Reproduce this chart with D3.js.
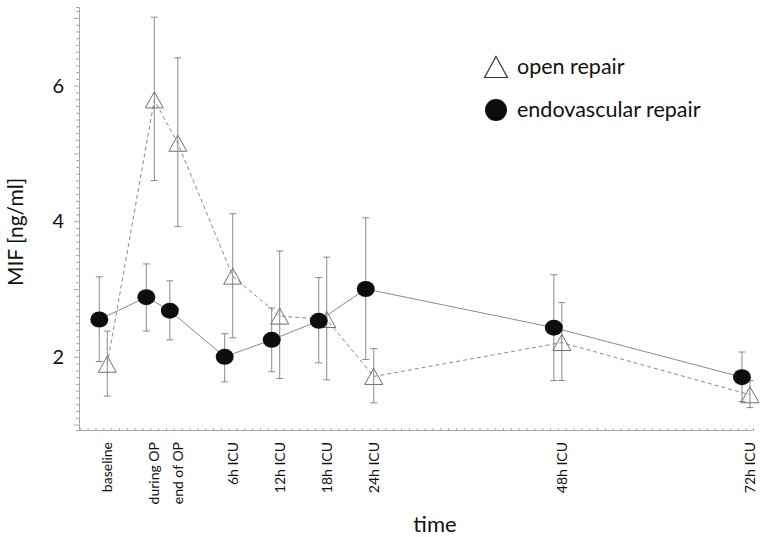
<!DOCTYPE html>
<html>
<head>
<meta charset="utf-8">
<title>MIF time course</title>
<script src="https://cdnjs.cloudflare.com/ajax/libs/d3/7.8.5/d3.min.js"></script>
<style>
body { margin: 0; background: #fff; font-family: Lato, "Open Sans", sans-serif; }
.line { fill: none; stroke: #8a8a8a; stroke-width: 1; }
.err { stroke: #8a8a8a; stroke-width: 1; }
</style>
</head>
<body>
<script>
// time points (position on the hour scale, ICU hours; pre-ICU points placed before 0)
var labels = ["baseline", "during OP", "end of  OP", "6h ICU", "12h ICU", "18h ICU", "24h ICU", "48h ICU", "72h ICU"];
var positions = [-10, -4, -1, 6, 12, 18, 24, 48, 72];

// open repair (triangles): mean, lower, upper
var openMean = [1.89, 5.79, 5.15, 3.19, 2.60, 2.55, 1.71, 2.21, 1.44];
var openLow  = [1.42, 4.60, 3.92, 2.28, 1.68, 1.66, 1.32, 1.65, 1.25];
var openHigh = [2.38, 7.01, 6.41, 4.11, 3.56, 3.47, 2.12, 2.80, 1.65];

// endovascular repair (circles)
var endoMean = [2.55, 2.88, 2.68, 2.00, 2.25, 2.53, 3.00, 2.43, 1.70];
var endoLow  = [1.93, 2.38, 2.25, 1.63, 1.78, 1.91, 1.96, 1.65, 1.34];
var endoHigh = [3.18, 3.37, 3.12, 2.34, 2.72, 3.17, 4.05, 3.21, 2.07];

var yTicks = [2, 4, 6];

var W = 764, H = 537;
var margin = {left: 79, right: 11, top: 7, bottom: 107};

var x = d3.scaleLinear().domain([-13.1, 72.9]).range([margin.left, W - margin.right]);
var y = d3.scaleLinear().domain([0.92, 7.16]).range([H - margin.bottom, margin.top]);

var svg = d3.select("body").append("svg")
    .attr("width", W)
    .attr("height", H);

// axes
var axisColor = "#a8a8a8";
var yMinor = d3.range(10, 72).map(function(d) { return d / 10; });
var xMinor = d3.range(-13, 73);

var yAxis = svg.append("g")
    .attr("transform", "translate(" + margin.left + ",0)")
    .call(d3.axisLeft(y).tickValues(yMinor).tickSize(3).tickFormat(""));
yAxis.select(".domain").attr("stroke", axisColor);
yAxis.selectAll(".tick line")
    .attr("stroke", axisColor)
    .attr("x2", function(d) { return Math.abs(d - Math.round(d)) < 1e-6 ? -5 : -3; });

svg.append("g")
    .selectAll("text")
    .data(yTicks)
    .enter().append("text")
    .attr("x", margin.left - 15)
    .attr("y", function(d) { return y(d); })
    .attr("dy", "0.35em")
    .attr("text-anchor", "end")
    .attr("font-size", 20)
    .attr("fill", "#111")
    .text(function(d) { return d; });

var xAxis = svg.append("g")
    .attr("transform", "translate(0," + (H - margin.bottom) + ")")
    .call(d3.axisTop(x).tickValues(xMinor).tickSize(2).tickFormat(""));
xAxis.select(".domain").attr("stroke", axisColor);
xAxis.selectAll(".tick line").attr("stroke", axisColor);

// category labels, rotated
svg.append("g")
    .selectAll("text")
    .data(labels)
    .enter().append("text")
    .attr("transform", function(d, i) {
        return "translate(" + (x(positions[i]) + 4) + "," + (H - margin.bottom + 12) + ") rotate(-90)";
    })
    .attr("dy", "0.35em")
    .attr("text-anchor", "end")
    .attr("font-size", 14)
    .attr("fill", "#111")
    .text(function(d) { return d; });

// axis titles
svg.append("text")
    .attr("x", 435)
    .attr("y", 532)
    .attr("text-anchor", "middle")
    .attr("font-size", 22)
    .attr("fill", "#111")
    .text("time");

svg.append("text")
    .attr("transform", "translate(23,232) rotate(-90)")
    .attr("text-anchor", "middle")
    .attr("font-size", 21)
    .attr("fill", "#111")
    .text("MIF [ng/ml]");

// series
var dodge = 4;
var line = d3.line()
    .x(function(d) { return d.x; })
    .y(function(d) { return y(d.v); });

var openPts = positions.map(function(p, i) {
    return {x: x(p) + dodge, v: openMean[i], lo: openLow[i], hi: openHigh[i]};
});
var endoPts = positions.map(function(p, i) {
    return {x: x(p) - dodge, v: endoMean[i], lo: endoLow[i], hi: endoHigh[i]};
});

svg.append("path")
    .attr("class", "line")
    .attr("stroke-dasharray", "4,3")
    .attr("d", line(openPts));

svg.append("path")
    .attr("class", "line")
    .attr("d", line(endoPts));

function errorBars(pts) {
    var g = svg.append("g");
    g.selectAll(".v").data(pts).enter().append("line")
        .attr("class", "err")
        .attr("x1", function(d) { return d.x; })
        .attr("x2", function(d) { return d.x; })
        .attr("y1", function(d) { return y(d.lo); })
        .attr("y2", function(d) { return y(d.hi); });
    ["lo", "hi"].forEach(function(k) {
        g.selectAll(".c" + k).data(pts).enter().append("line")
            .attr("class", "err")
            .attr("x1", function(d) { return d.x - 3.5; })
            .attr("x2", function(d) { return d.x + 3.5; })
            .attr("y1", function(d) { return y(d[k]); })
            .attr("y2", function(d) { return y(d[k]); });
    });
}
errorBars(openPts);
errorBars(endoPts);

function triPath(cx, cy, w, h) {
    return "M" + cx + "," + (cy - h / 2) +
        "L" + (cx + w / 2) + "," + (cy + h / 2) +
        "L" + (cx - w / 2) + "," + (cy + h / 2) + "Z";
}

svg.append("g").selectAll("path").data(openPts).enter().append("path")
    .attr("d", function(d) { return triPath(d.x, y(d.v), 18, 16); })
    .attr("fill", "none")
    .attr("stroke", "#707070")
    .attr("stroke-width", 1);

svg.append("g").selectAll("ellipse").data(endoPts).enter().append("ellipse")
    .attr("cx", function(d) { return d.x; })
    .attr("cy", function(d) { return y(d.v); })
    .attr("rx", 9)
    .attr("ry", 8)
    .attr("fill", "#0d0d0d");

// legend
var legend = svg.append("g");
legend.append("path")
    .attr("d", triPath(496, 67, 23, 21))
    .attr("fill", "#fff")
    .attr("stroke", "#333")
    .attr("stroke-width", 1.2);
legend.append("text")
    .attr("x", 517).attr("y", 74)
    .attr("font-size", 21.5)
    .attr("fill", "#111")
    .text("open repair");
legend.append("circle")
    .attr("cx", 496).attr("cy", 110).attr("r", 11)
    .attr("fill", "#0d0d0d");
legend.append("text")
    .attr("x", 517).attr("y", 117)
    .attr("font-size", 21.5)
    .attr("fill", "#111")
    .text("endovascular repair");
</script>
</body>
</html>
